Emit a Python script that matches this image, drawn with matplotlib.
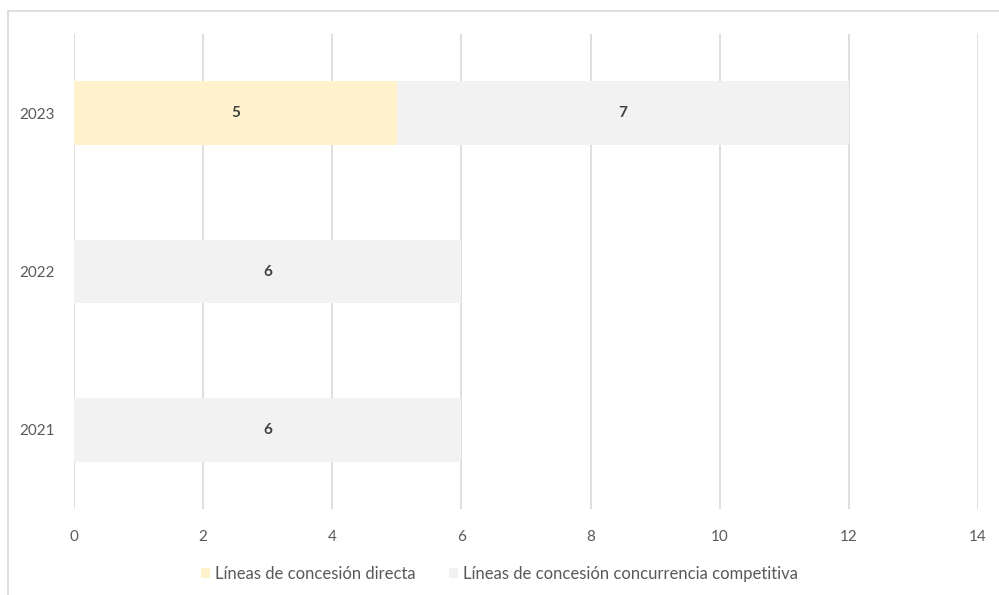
import matplotlib.pyplot as plt
from matplotlib.patches import Rectangle
import numpy as np

years = ["2021", "2022", "2023"]
directa = [0, 0, 5]
concurrencia = [6, 6, 7]
series_names = ["Líneas de concesión directa", "Líneas de concesión concurrencia competitiva"]
colors = ["#FFF2CC", "#F2F2F2"]
xticks = [0, 2, 4, 6, 8, 10, 12, 14]

plt.rcParams["font.family"] = ["Lato", "DejaVu Sans"]

W, H = 999, 595
fig = plt.figure(figsize=(W / 100, H / 100), dpi=100)
ax = fig.add_axes([74 / W, 1 - 509 / H, (978 - 74) / W, (509 - 34) / H])

# chart frame (cut off on right and bottom like the reference)
fig.patches.append(Rectangle((8 / W, -0.1), 1.2, 1 - 11 / H + 0.1, transform=fig.transFigure,
                             fill=False, edgecolor="#D9D9D9", linewidth=1.2, zorder=0))

y = np.arange(len(years))
ax.barh(y, directa, height=0.4, color=colors[0], label=series_names[0], zorder=2)
ax.barh(y, concurrencia, left=directa, height=0.4, color=colors[1], label=series_names[1], zorder=2)

for i in range(len(years)):
    if directa[i] > 0:
        ax.text(directa[i] / 2, y[i], str(directa[i]), ha="center", va="center",
                fontsize=11, fontweight="bold", color="#404040", zorder=3)
    if concurrencia[i] > 0:
        ax.text(directa[i] + concurrencia[i] / 2, y[i], str(concurrencia[i]), ha="center", va="center",
                fontsize=11, fontweight="bold", color="#404040", zorder=3)

ax.set_xlim(0, 14)
ax.set_ylim(-0.5, 2.5)
ax.set_xticks(xticks)
ax.set_yticks(y)
ax.set_yticklabels(years)
ax.xaxis.grid(True, color="#D9D9D9", linewidth=1.2, zorder=0)
ax.set_axisbelow(True)
for s in ax.spines.values():
    s.set_visible(False)
ax.tick_params(axis="both", length=0, labelsize=11, labelcolor="#595959")
ax.tick_params(axis="x", pad=15)
ax.tick_params(axis="y", pad=14)

fig.legend(loc="center", bbox_to_anchor=(0.5, 1 - 574 / H), ncol=2, frameon=False,
           fontsize=12, labelcolor="#595959", handlelength=0.55, handleheight=0.55,
           handletextpad=0.3, columnspacing=2.0)

fig.savefig("out.png", dpi=100)
